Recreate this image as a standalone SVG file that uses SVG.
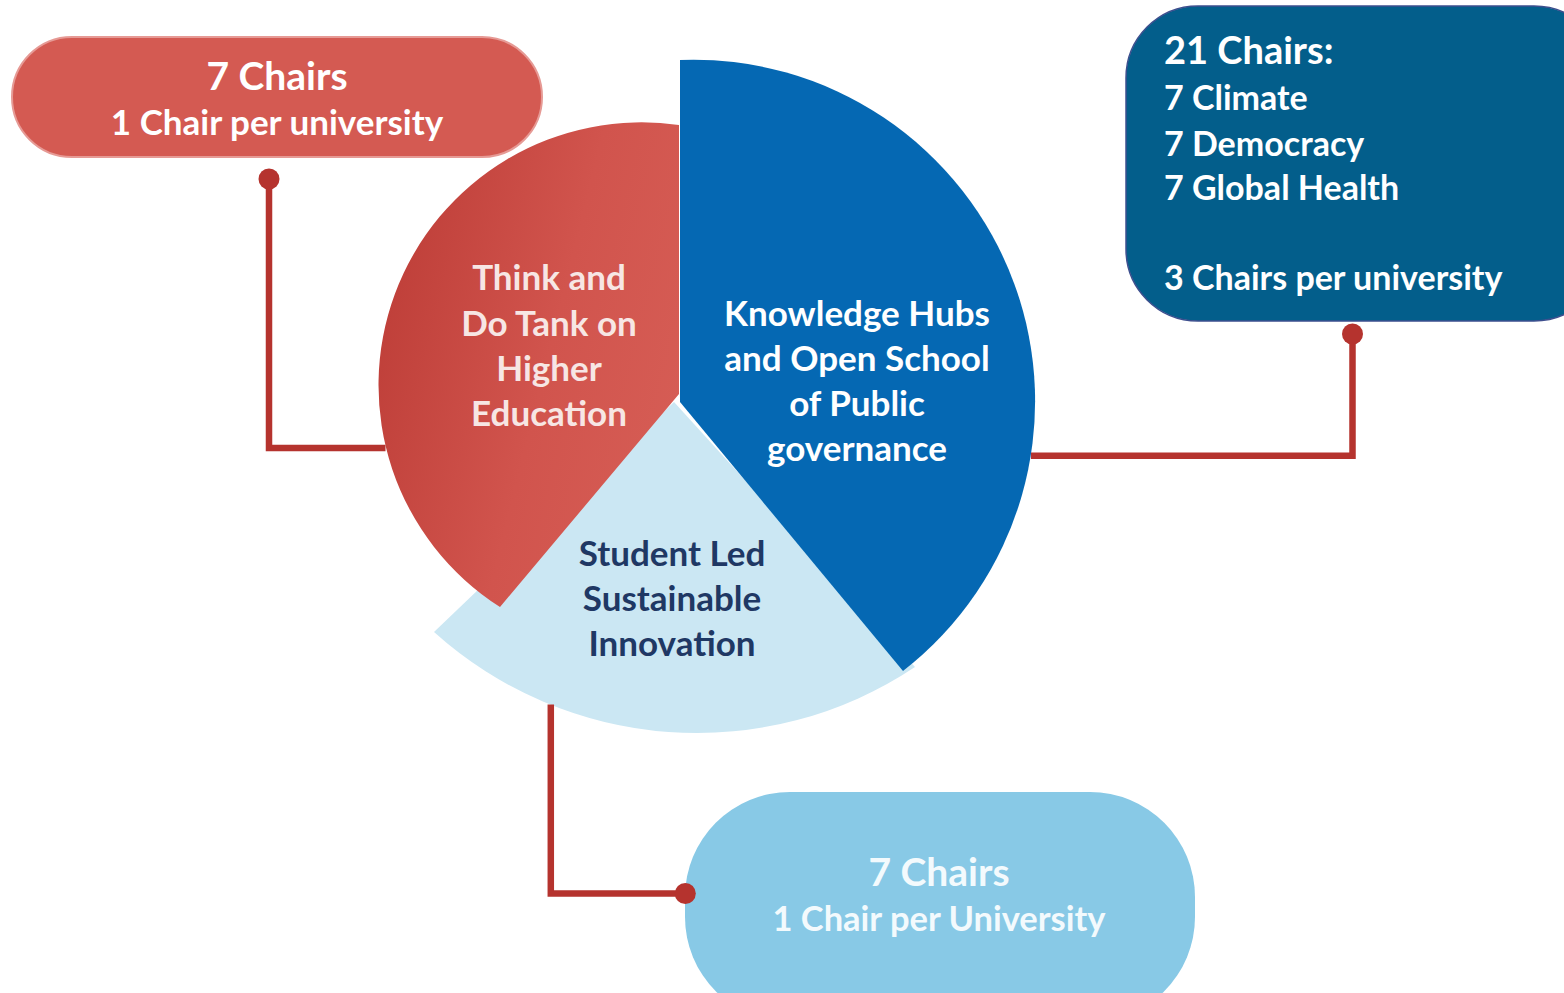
<svg xmlns="http://www.w3.org/2000/svg" width="1564" height="993" viewBox="0 0 1564 993">
  <style>
    text { font-family: Lato, "Open Sans", "Liberation Sans", sans-serif; font-weight: 700; }
    .c { text-anchor: middle; }
    .wt { fill: #FFFFFF; }
    .pale { fill: #F7E6E4; }
    .navy { fill: #1F3864; }
    .conn { fill: none; stroke: #B5332E; stroke-width: 6.5; }
    .dot { fill: #B5332E; }
  </style>
  <defs>
    <linearGradient id="redGrad" x1="0" y1="0.3" x2="1" y2="0.7">
      <stop offset="0" stop-color="#BE3E38"/>
      <stop offset="0.55" stop-color="#D1544D"/>
      <stop offset="1" stop-color="#D65D55"/>
    </linearGradient>
  </defs>
  <rect width="1564" height="993" fill="#FFFFFF"/>

  <g id="sector-student">
    <path d="M 674,402 L 434,632 A 393 393 0 0 0 915,667 Z" fill="#CBE7F3"/>
    <text class="c navy" font-size="35" x="672" y="566">Student Led</text>
    <text class="c navy" font-size="35" x="672" y="611">Sustainable</text>
    <text class="c navy" font-size="35" x="672" y="656">Innovation</text>
  </g>

  <g id="sector-thinktank">
    <path d="M 679,125 A 263 263 0 0 0 500,607 L 679,394 Z" fill="url(#redGrad)"/>
    <text class="c pale" font-size="35" x="549" y="290">Think and</text>
    <text class="c pale" font-size="35" x="549" y="336">Do Tank on</text>
    <text class="c pale" font-size="35" x="549" y="381">Higher</text>
    <text class="c pale" font-size="35" x="549" y="426">Education</text>
  </g>

  <g id="sector-knowledge">
    <path d="M 680,60 A 341.5 341.5 0 0 1 903,671 L 680,402 Z" fill="#0568B3"/>
    <text class="c wt" font-size="35" x="857" y="326">Knowledge Hubs</text>
    <text class="c wt" font-size="35" x="857" y="371">and Open School</text>
    <text class="c wt" font-size="35" x="857" y="416">of Public</text>
    <text class="c wt" font-size="35" x="857" y="461">governance</text>
  </g>

  <g id="box-left">
    <rect x="12" y="37" width="530" height="120" rx="60" ry="60" fill="#D45A52" stroke="#E69A95" stroke-width="2"/>
    <text class="c wt" font-size="39" x="277" y="90">7 Chairs</text>
    <text class="c wt" font-size="35" x="277" y="135">1 Chair per university</text>
  </g>

  <g id="box-right">
    <rect x="1126" y="6" width="480" height="315" rx="72" ry="72" fill="#035E8B" stroke="#3D4F8E" stroke-width="1.5"/>
    <text class="wt" font-size="38" x="1164" y="64">21 Chairs:</text>
    <text class="wt" font-size="34" x="1164" y="110">7 Climate</text>
    <text class="wt" font-size="34" x="1164" y="156">7 Democracy</text>
    <text class="wt" font-size="34" x="1164" y="200">7 Global Health</text>
    <text class="wt" font-size="34" x="1164" y="290">3 Chairs per university</text>
  </g>

  <g id="box-bottom">
    <rect x="685" y="792" width="510" height="230" rx="105" ry="105" fill="#88C9E6"/>
    <text class="c" fill="#F3FAFD" font-size="39" x="939" y="886">7 Chairs</text>
    <text class="c" fill="#F3FAFD" font-size="34.5" x="939" y="931">1 Chair per University</text>
  </g>

  <g id="connectors">
    <polyline class="conn" points="269,179 269,448 385.5,448"/>
    <circle class="dot" cx="269" cy="179" r="10.5"/>
    <polyline class="conn" points="1352.5,334 1352.5,455.7 1031,455.7"/>
    <circle class="dot" cx="1352.5" cy="334" r="10.5"/>
    <polyline class="conn" points="550.8,704.5 550.8,893.5 685,893.5"/>
    <circle class="dot" cx="685.3" cy="893.5" r="10.5"/>
  </g>
</svg>
